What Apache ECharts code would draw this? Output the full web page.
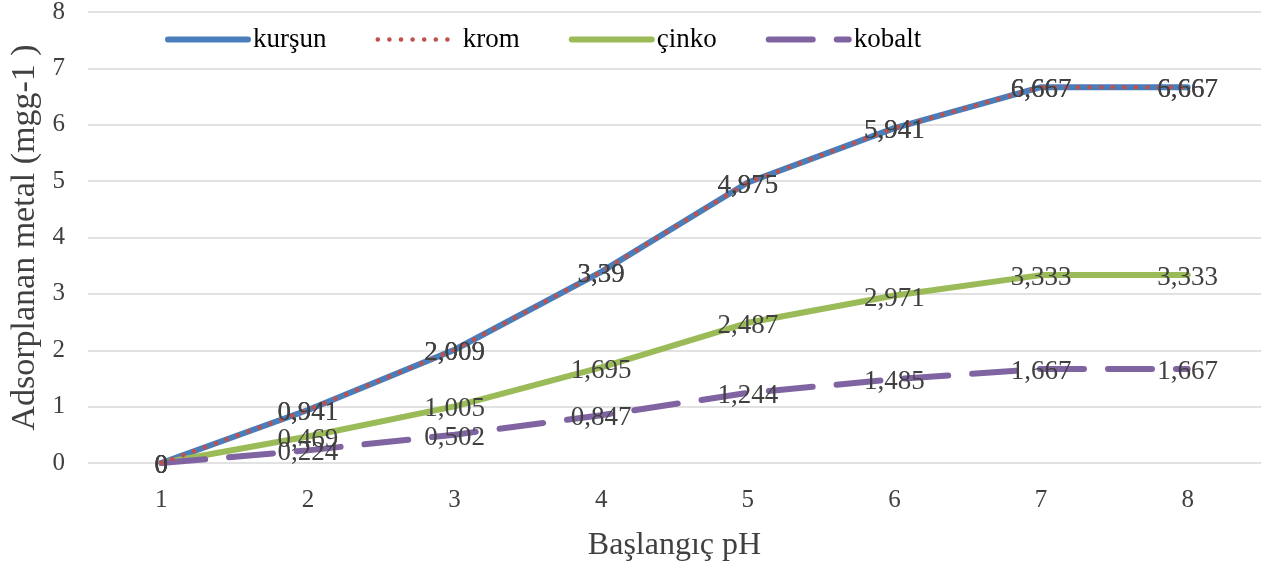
<!DOCTYPE html>
<html><head><meta charset="utf-8">
<script src="https://cdn.jsdelivr.net/npm/echarts@6/dist/echarts.min.js"></script>
<style>html,body{margin:0;padding:0;background:#fff}#c{width:1261px;height:567px}</style>
</head><body><div id="c"></div>
<script>
const categories = ['1','2','3','4','5','6','7','8'];
const kursun = [0, 0.941, 2.009, 3.39, 4.975, 5.941, 6.667, 6.667];
const krom   = [0, 0.941, 2.009, 3.39, 4.975, 5.941, 6.667, 6.667];
const cinko  = [0, 0.469, 1.005, 1.695, 2.487, 2.971, 3.333, 3.333];
const kobalt = [0, 0.224, 0.502, 0.847, 1.244, 1.485, 1.667, 1.667];
const seriesNames = ['kurşun','krom','çinko','kobalt'];

const FONT = 'Liberation Serif';
const fmt = p => String(p.value).replace('.', ',');
const lbl = {show:true, position:'inside', offset:[0,3], formatter:fmt, color:'#404040', fontSize:27, fontFamily:FONT};

const colors = {kurşun:'#4a7ebb', krom:'#c0504d', çinko:'#9bbb59', kobalt:'#8064a2'};

const chart = echarts.init(document.getElementById('c'));
chart.setOption({
  animation:false,
  textStyle:{fontFamily:FONT},
  legend:{
    left:160, top:21, itemWidth:80, itemHeight:14, itemGap:49,
    textStyle:{fontSize:27, color:'#000', fontFamily:FONT},
    itemStyle:{opacity:0},
    lineStyle:{width:6},
    data:seriesNames.map(n => ({name:n, lineStyle: n==='krom' ? {width:4.5} : {width:6}}))
  },
  grid:{left:88, right:0, top:12, bottom:104, outerBoundsMode:'none', containLabel:false},
  xAxis:{
    type:'category', data:categories, boundaryGap:true,
    name:'Başlangıç pH', nameLocation:'middle', nameGap:67,
    nameTextStyle:{fontSize:32, color:'#404040', fontFamily:FONT},
    axisLine:{show:false}, axisTick:{show:false},
    axisLabel:{fontSize:25, color:'#404040', margin:25, fontFamily:FONT}
  },
  yAxis:{
    type:'value', min:0, max:8, interval:1,
    name:'Adsorplanan metal (mgg-1 )', nameLocation:'middle', nameGap:44,
    nameTextStyle:{fontSize:34, color:'#404040', fontFamily:FONT},
    axisLabel:{fontSize:25, color:'#404040', margin:23, fontFamily:FONT},
    splitLine:{lineStyle:{color:'#d9d9d9', width:1.5}}
  },
  series:[
    {name:'kurşun', type:'line', data:kursun, symbol:'circle', symbolSize:0,
     lineStyle:{color:colors['kurşun'], width:6, cap:'round'}, itemStyle:{color:colors['kurşun']}, label:lbl, z:2},
    {name:'krom', type:'line', data:krom, symbol:'circle', symbolSize:0,
     lineStyle:{color:colors['krom'], width:4.5, type:[0.1,11.5], cap:'round'}, itemStyle:{color:colors['krom']}, label:lbl, z:3},
    {name:'çinko', type:'line', data:cinko, symbol:'circle', symbolSize:0,
     lineStyle:{color:colors['çinko'], width:6, cap:'round'}, itemStyle:{color:colors['çinko']}, label:lbl, z:2},
    {name:'kobalt', type:'line', data:kobalt, symbol:'circle', symbolSize:0,
     lineStyle:{color:colors['kobalt'], width:6, type:[44,24], cap:'round'}, itemStyle:{color:colors['kobalt']}, label:lbl, z:2}
  ]
});
</script></body></html>
